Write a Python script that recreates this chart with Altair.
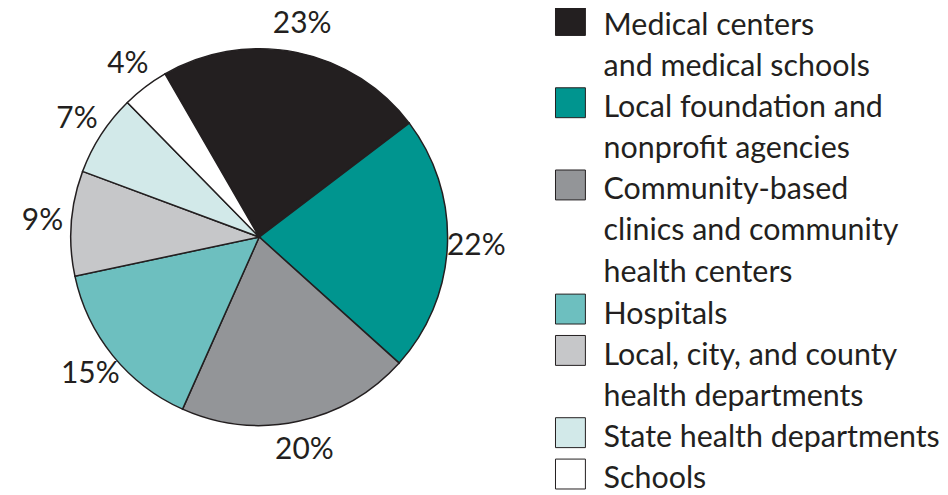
import math
import altair as alt
import pandas as pd

categories = [
    "Medical centers\nand medical schools",
    "Local foundation and\nnonprofit agencies",
    "Community-based\nclinics and community\nhealth centers",
    "Hospitals",
    "Local, city, and county\nhealth departments",
    "State health departments",
    "Schools",
]
shares = [23, 22, 20, 15, 9, 7, 4]
colors = ["#231f20", "#00958f", "#939598", "#6dbfbf", "#c6c7c9", "#d2e9e9", "#ffffff"]

df = pd.DataFrame({
    "category": categories,
    "share": shares,
    "order": list(range(len(categories))),
})
df["label"] = df["share"].astype(str) + "%"

start = -math.pi / 6
theta_scale = alt.Scale(range=[start, start + 2 * math.pi])
ink = "#231f20"

base = alt.Chart(df).encode(
    theta=alt.Theta("share:Q", stack=True, scale=theta_scale),
    order=alt.Order("order:Q"),
)

pie = base.mark_arc(outerRadius=189, stroke=ink, strokeWidth=1.5).encode(
    color=alt.Color(
        "category:N",
        sort=categories,
        scale=alt.Scale(domain=categories, range=colors),
        legend=alt.Legend(
            title=None,
            orient="none",
            legendX=549,
            legendY=11,
            symbolType="M-3,-5.9L3,-5.9L3,0.1L-3,0.1Z",
            symbolSize=100,
            symbolStrokeColor=ink,
            symbolStrokeWidth=1,
            symbolOpacity=1,
            labelFont="Lato",
            labelFontSize=30.5,
            labelColor=ink,
            labelBaseline="alphabetic",
            labelOffset=18,
            labelLimit=0,
            rowPadding=2.5,
            labelExpr="split(datum.label, '\\n')",
        ),
    )
)

labels = base.mark_text(radius=218, font="Lato", fontSize=30, color=ink).encode(
    text="label:N"
)

chart = (
    alt.layer(pie, labels)
    .properties(width=504, height=458, padding=0)
    .configure(style={"guide-label": {"lineHeight": 41.2}})
    .configure_view(stroke=None)
)

chart.save("out.html", embed_options={"renderer": "svg", "actions": False})
